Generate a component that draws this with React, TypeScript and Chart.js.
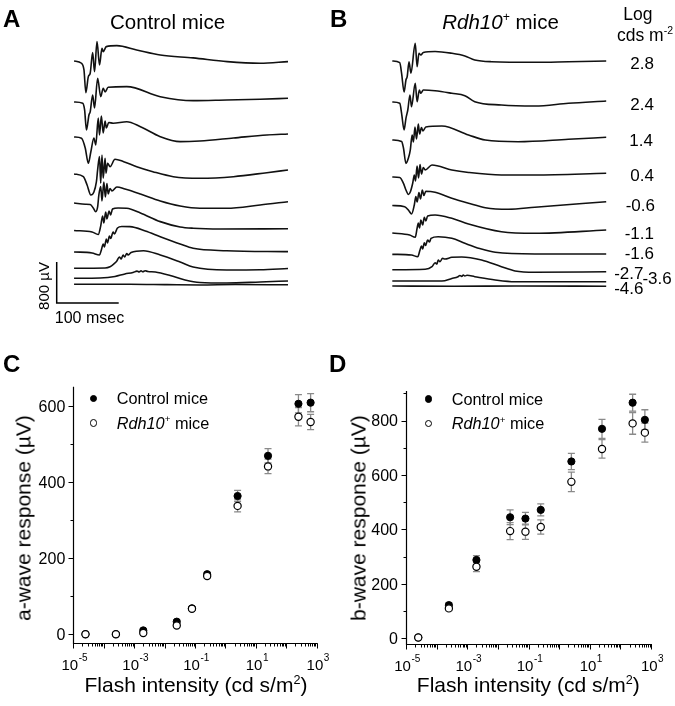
import React, { useEffect, useRef } from "react";
import { Chart, registerables } from "chart.js";
Chart.register(...registerables);

const FONT = '"Liberation Sans", Arial, Helvetica, sans-serif';

// ---------------- Panels C & D : intensity-response data ----------------
const logIntensity = [-4.6, -3.6, -2.7, -1.6, -1.1, -0.6, 0.4, 1.4, 2.4, 2.8];
const aWaveControl = [0, 0, 10, 33, 68, 158, 364, 470, 607, 610];
const aWaveControlSem = [2, 2, 3, 4, 4, 5, 15, 19, 24, 24];
const aWaveRdh10 = [0, 0, 3, 23, 67, 153, 338, 442, 573, 559];
const aWaveRdh10Sem = [2, 2, 3, 4, 4, 5, 16, 19, 24, 20];
const bWaveControl = [3, 122, 288, 445, 440, 472, 650, 770, 866, 803];
const bWaveControlSem = [3, 8, 16, 27, 23, 22, 30, 35, 31, 37];
const bWaveRdh10 = [3, 110, 263, 394, 392, 409, 575, 696, 790, 756];
const bWaveRdh10Sem = [3, 8, 18, 31, 28, 26, 36, 34, 40, 35];

const xTickExponents = [-5, -4, -3, -2, -1, 0, 1, 2, 3];
const xLabelExponents = [-5, -3, -1, 1, 3];
const aYTicks = [0, 200, 400, 600];
const aYMinor = [100, 300, 500];
const bYTicks = [0, 200, 400, 600, 800];
const bYMinor = [100, 300, 500, 700, 900];

// ---------------- Panels A & B : ERG traces [ms, µV] ----------------
const intensityLabels = ["2.8", "2.4", "1.4", "0.4", "-0.6", "-1.1", "-1.6", "-2.7", "-3.6", "-4.6"];

const ctl28 = [[0,0],[12,-45],[16,-176],[19,-618],[23,-306],[26,-240],[30,162],[33,-209],[37,377],[41,-78],[45,248],[47,181],[52,279],[69,298],[101,215],[139,117],[192,59],[247,-14],[300,-45],[345,-14]];
const ctl24 = [[0,0],[14,-25],[17,-156],[20,-546],[24,-254],[26,-195],[30,137],[33,-117],[38,462],[43,103],[47,267],[50,195],[55,287],[85,298],[139,103],[192,25],[246,39],[300,53],[345,72]];
const ctl14 = [[0,0],[12,-25],[18,-215],[23,-513],[27,-293],[32,-20],[35,-156],[39,371],[41,39],[44,410],[47,78],[50,312],[52,176],[56,283],[63,267],[85,298],[107,201],[139,6],[171,-92],[203,-78],[257,-20],[311,39],[345,59]];
const ctl04 = [[0,0],[15,-53],[21,-215],[27,-410],[32,-351],[36,-156],[38,78],[41,338],[43,-181],[45,371],[47,-84],[50,306],[51.5,14],[54,209],[58,142],[66,287],[80,240],[101,142],[127,45],[160,-53],[203,-84],[257,-53],[311,25],[345,78]];
const ctlM06 = [[0,0],[18,-25],[26,-30],[31,-98],[35,-170],[38,-78],[40,156],[43,318],[45,39],[48,410],[50.5,117],[53,380],[55,176],[58,283],[61,234],[69,312],[82,273],[107,176],[139,39],[171,-59],[203,-103],[246,-103],[300,-39],[345,25]];
const ctlM11 = [[0,0],[29,-29],[39,-78],[43,88],[46,283],[48,146],[51,361],[53,224],[56.5,380],[59,302],[62,419],[71,439],[85,433],[107,341],[139,172],[171,68],[192,43],[236,29],[345,33]];
const ctlM16 = [[0,0],[29,-20],[41,-59],[44,39],[47,156],[49,98],[52,254],[54,176],[57,312],[59,263],[63,390],[65,351],[70,468],[77,497],[90,494],[115,410],[139,298],[171,156],[192,72],[246,25],[345,6]];
const ctlM27 = [[0,0],[50,6],[58,31],[64,84],[69,142],[73,220],[76,181],[79,259],[81.5,220],[85,289],[87,259],[92,308],[112,343],[139,259],[171,123],[192,25],[246,-33],[300,-29],[345,-4]];
const ctlM36 = [[0,0],[42,6],[66,35],[82,84],[95,113],[101.5,139],[105,123],[108,146],[111,127],[114.5,146],[119,133],[131,123],[155,55],[179,-33],[203,-82],[246,-92],[300,-72],[345,-53]];
const ctlM46 = [[0,0],[90,0],[150,-8],[203,-14],[260,-6],[345,-10]];

const rdh28 = [[0,0],[12,-33],[15,-240],[19,-605],[22,-371],[24,-306],[27,-14],[30,-240],[37,345],[40,-111],[43,150],[46,117],[50,166],[69,185],[96,150],[117,98],[133,20],[160,-14],[230,-25],[284,-14],[345,0]];
const rdh24 = [[0,0],[12,-25],[15,-220],[19,-546],[22,-318],[25,-156],[28.5,137],[31,-92],[37,365],[40,6],[43.6,234],[46,170],[50,234],[69,220],[96,170],[117,123],[133,6],[176,-59],[230,-78],[284,-25],[345,20]];
const rdh14 = [[0,0],[15,-29],[18,-156],[22,-455],[26,-351],[29,-195],[32,98],[34,-39],[36.6,254],[39,20],[42,312],[44,117],[47,244],[49.5,176],[54,254],[80,273],[123,98],[150,0],[203,-33],[284,14],[345,53]];
const rdh04 = [[0,0],[12,-10],[18,-123],[22,-254],[26,-341],[29,-293],[33,-117],[35.5,39],[37.4,-78],[40,215],[42.3,-20],[44.7,244],[47,59],[50,185],[53,137],[64,234],[96,137],[123,88],[176,39],[230,39],[345,72]];
const rdhM06 = [[0,0],[20,-23],[27,-107],[31,-166],[35.5,10],[38,172],[40,68],[43,250],[45.5,127],[48.4,302],[51,195],[54,277],[69,258],[96,140],[123,43],[150,-43],[187,-74],[230,-35],[345,74]];
const rdhM11 = [[0,0],[28,-39],[37,-84],[40,92],[42,195],[44,98],[46,254],[49,156],[51.6,306],[54,234],[57,332],[69,351],[96,287],[123,176],[176,25],[230,-6],[345,59]];
const rdhM16 = [[0,0],[31,-14],[41,-47],[44.7,84],[47,162],[49,103],[51.6,226],[53.6,172],[57,279],[60,240],[62.4,312],[74,343],[96,312],[117,215],[141,113],[166,39],[230,6],[345,6]];
const rdhM27 = [[0,0],[53,10],[64,60],[69,139],[72,113],[74,191],[77,158],[81,224],[85,211],[96,244],[112,250],[144,191],[176,60],[198,-23],[230,-49],[345,-37]];
const rdhM36 = [[0,0],[80,0],[96,49],[106,84],[109,107],[112,88],[114.5,117],[117,98],[120.5,111],[133,84],[166,20],[198,-14],[345,-14]];
const rdhM46 = [[0,0],[100,-4],[200,0],[345,-4]];

const controlTraces = [ctl28, ctl24, ctl14, ctl04, ctlM06, ctlM11, ctlM16, ctlM27, ctlM36, ctlM46];
const rdh10Traces = [rdh28, rdh24, rdh14, rdh04, rdhM06, rdhM11, rdhM16, rdhM27, rdhM36, rdhM46];

// vertical stacking offsets of the traces (µV)
const controlOffsets = [4357, 3557, 2874, 2152, 1586, 1050, 630, 312, 117, 0];
const rdh10Offsets = [4390, 3590, 2848, 2127, 1571, 1034, 618, 316, 98, 0];

// scale bar: 800 µV x 100 msec
const scaleBarUv = 800;
const scaleBarMs = 100;

// ---------------- layout (not data) ----------------
const labelLayout = [
  [654, 63.3], [654, 104.3], [653, 140], [654, 175], [655, 205.3],
  [654, 233], [654, 253.7], [643.5, 273.3], [671.7, 278.7], [643.5, 288.3],
];

function traceConfig(traces: number[][][], offsets: number[], xMin: number, padding: any, withBar: boolean): any {
  const datasets: any[] = traces.map((tr, i) => ({
    data: tr.map(([t, v]) => ({ x: t, y: v + offsets[i] })),
    borderColor: "#111",
    borderWidth: 1.6,
    pointRadius: 0,
    cubicInterpolationMode: "monotone",
    fill: false,
    clip: false,
  }));
  if (withBar) {
    const x0 = -28, y0 = -365;
    datasets.push({
      data: [
        { x: x0, y: y0 + scaleBarUv },
        { x: x0, y: y0 },
        { x: x0 + scaleBarMs, y: y0 },
      ],
      borderColor: "#000",
      borderWidth: 1.5,
      pointRadius: 0,
      tension: 0,
      fill: false,
      clip: false,
    });
  }
  return {
    type: "line",
    data: { datasets },
    options: {
      animation: false,
      responsive: false,
      devicePixelRatio: 1,
      events: [],
      layout: { padding },
      plugins: { legend: { display: false }, tooltip: { enabled: false }, title: { display: false } },
      scales: {
        x: { type: "linear", min: xMin, max: 345, display: false },
        y: { type: "linear", min: -430, max: 5150, display: false },
      },
    },
  };
}

const errorBarPlugin = {
  id: "errbars",
  beforeDatasetsDraw(chart: any) {
    const { ctx } = chart;
    const xs = chart.scales.x, ys = chart.scales.y;
    ctx.save();
    ctx.strokeStyle = "#8a8a8a";
    ctx.lineWidth = 1.3;
    chart.data.datasets.forEach((ds: any) => {
      if (!ds.errors) return;
      ds.data.forEach((p: any, i: number) => {
        const e = ds.errors[i];
        const px = xs.getPixelForValue(p.x);
        const y1 = ys.getPixelForValue(p.y + e);
        const y2 = ys.getPixelForValue(p.y - e);
        ctx.beginPath();
        ctx.moveTo(px, y1); ctx.lineTo(px, y2);
        ctx.moveTo(px - 3.5, y1); ctx.lineTo(px + 3.5, y1);
        ctx.moveTo(px - 3.5, y2); ctx.lineTo(px + 3.5, y2);
        ctx.stroke();
      });
    });
    ctx.restore();
  },
};

function axesPlugin(yTicks: number[], yMinor: number[]) {
  return {
    id: "axes",
    afterDraw(chart: any) {
      const { ctx, chartArea: ca } = chart;
      const xs = chart.scales.x, ys = chart.scales.y;
      const L = Math.round(ca.left) + 0.5;
      const B = Math.round(ca.bottom) + 0.5;
      ctx.save();
      ctx.strokeStyle = "#000";
      ctx.lineWidth = 1.2;
      ctx.beginPath();
      ctx.moveTo(L, ca.top);
      ctx.lineTo(L, B);
      ctx.lineTo(ca.right + 1, B);
      ctx.stroke();
      ctx.lineWidth = 1;
      ctx.beginPath();
      xTickExponents.forEach((e) => {
        const px = Math.round(xs.getPixelForValue(Math.pow(10, e))) + 0.5;
        ctx.moveTo(px, B); ctx.lineTo(px, B + 5);
        if (e < 3) {
          for (let k = 2; k <= 9; k++) {
            const mx = Math.round(xs.getPixelForValue(k * Math.pow(10, e))) + 0.5;
            ctx.moveTo(mx, B); ctx.lineTo(mx, B + 3);
          }
        }
      });
      yTicks.forEach((v) => {
        const py = Math.round(ys.getPixelForValue(v)) + 0.5;
        ctx.moveTo(L, py); ctx.lineTo(L - 5, py);
      });
      yMinor.forEach((v) => {
        const py = Math.round(ys.getPixelForValue(v)) + 0.5;
        ctx.moveTo(L, py); ctx.lineTo(L - 3, py);
      });
      ctx.stroke();
      ctx.fillStyle = "#000";
      ctx.textBaseline = "alphabetic";
      // y labels
      ctx.font = `16px ${FONT}`;
      ctx.textAlign = "right";
      yTicks.forEach((v) => {
        const py = ys.getPixelForValue(v);
        ctx.fillText(String(v), ca.left - 8, py + 5.7);
      });
      // x labels 10^n
      ctx.textAlign = "left";
      xLabelExponents.forEach((e) => {
        const px = xs.getPixelForValue(Math.pow(10, e));
        ctx.font = `15px ${FONT}`;
        const w10 = ctx.measureText("10").width;
        ctx.font = `10px ${FONT}`;
        const expStr = String(e);
        const wE = ctx.measureText(expStr).width;
        const sx = px - (w10 + wE) / 2 + 1;
        ctx.font = `15px ${FONT}`;
        ctx.fillText("10", sx, ca.bottom + 26.5);
        ctx.font = `10px ${FONT}`;
        ctx.fillText(expStr, sx + w10 + 0.5, ca.bottom + 18);
      });
      ctx.restore();
    },
  };
}

function responseConfig(ctl: number[], ctlSem: number[], rdh: number[], rdhSem: number[], yMin: number, yMax: number, padding: any, yTicks: number[], yMinor: number[]): any {
  return {
    type: "scatter",
    data: {
      datasets: [
        {
          label: "Rdh10+ mice",
          data: logIntensity.map((l, i) => ({ x: Math.pow(10, l), y: rdh[i] })),
          errors: rdhSem,
          pointRadius: 3.6,
          pointBackgroundColor: "#fff",
          pointBorderColor: "#000",
          pointBorderWidth: 1.2,
          order: 0,
          clip: false,
        },
        {
          label: "Control mice",
          data: logIntensity.map((l, i) => ({ x: Math.pow(10, l), y: ctl[i] })),
          errors: ctlSem,
          pointRadius: 3.6,
          pointBackgroundColor: "#000",
          pointBorderColor: "#000",
          pointBorderWidth: 1,
          order: 1,
          clip: false,
        },
      ],
    },
    options: {
      animation: false,
      responsive: false,
      devicePixelRatio: 1,
      events: [],
      layout: { padding },
      plugins: { legend: { display: false }, tooltip: { enabled: false } },
      scales: {
        x: { type: "logarithmic", min: 1e-5, max: 1e3, display: false },
        y: { type: "linear", min: yMin, max: yMax, display: false },
      },
    },
    plugins: [errorBarPlugin, axesPlugin(yTicks, yMinor)],
  };
}

type TP = { x: number; y: number; size: number; align?: "left" | "center" | "right"; bold?: boolean; rot?: boolean; children: any };
const T = ({ x, y, size, align = "left", bold = false, rot = false, children }: TP) => {
  const tx = align === "center" ? "-50%" : align === "right" ? "-100%" : "0";
  const style: any = {
    position: "absolute",
    left: x,
    top: rot ? y : y - 0.49 * size,
    fontSize: size,
    lineHeight: `${size}px`,
    fontWeight: bold ? "bold" : "normal",
    whiteSpace: "nowrap",
    transform: rot ? "translate(-50%, -50%) rotate(-90deg)" : `translateX(${tx})`,
  };
  return <div style={style}>{children}</div>;
};

const Sup = ({ children }: { children: any }) => (
  <span style={{ fontSize: "0.6em", position: "relative", top: "-0.65em" }}>{children}</span>
);

const Dot = ({ x, y, filled }: { x: number; y: number; filled: boolean }) => (
  <div
    style={{
      position: "absolute",
      left: x - 3.6,
      top: y - 3.6,
      width: 7.2,
      height: 7.2,
      boxSizing: "border-box",
      borderRadius: "50%",
      border: "1.2px solid #000",
      background: filled ? "#000" : "#fff",
    }}
  />
);

export default function App() {
  const refA = useRef<HTMLCanvasElement>(null);
  const refB = useRef<HTMLCanvasElement>(null);
  const refC = useRef<HTMLCanvasElement>(null);
  const refD = useRef<HTMLCanvasElement>(null);

  useEffect(() => {
    const charts: Chart[] = [];
    charts.push(new Chart(refA.current!, traceConfig(controlTraces, controlOffsets, -28, { left: 56.7, right: 47, top: 20.3, bottom: 18.7 }, true)));
    charts.push(new Chart(refB.current!, traceConfig(rdh10Traces, rdh10Offsets, 0, { left: 57.3, right: 68.8, top: 22.04, bottom: 16.96 }, false)));
    charts.push(new Chart(refC.current!, responseConfig(aWaveControl, aWaveControlSem, aWaveRdh10, aWaveRdh10Sem, -24, 652, { left: 73.3, right: 20.3, top: 56.7, bottom: 62.7 }, aYTicks, aYMinor)));
    charts.push(new Chart(refD.current!, responseConfig(bWaveControl, bWaveControlSem, bWaveRdh10, bWaveRdh10Sem, -22, 909, { left: 69, right: 24, top: 61, bottom: 61.7 }, bYTicks, bYMinor)));
    return () => charts.forEach((c) => c.destroy());
  }, []);

  return (
    <div style={{ position: "absolute", left: 0, top: 0, width: 675, height: 706, background: "#fff", fontFamily: FONT, color: "#000", overflow: "hidden" }}>
      <canvas ref={refA} width={335} height={325} style={{ position: "absolute", left: 0, top: 0 }} />
      <canvas ref={refB} width={340} height={325} style={{ position: "absolute", left: 335, top: 0 }} />
      <canvas ref={refC} width={337} height={376} style={{ position: "absolute", left: 0, top: 330 }} />
      <canvas ref={refD} width={338} height={376} style={{ position: "absolute", left: 337, top: 330 }} />

      <T x={3} y={19} size={24} bold>A</T>
      <T x={330} y={19} size={24} bold>B</T>
      <T x={3} y={364} size={24} bold>C</T>
      <T x={329} y={364} size={24} bold>D</T>

      <T x={167.5} y={21.7} size={20.5} align="center">Control mice</T>
      <T x={500.5} y={22} size={20.5} align="center"><i>Rdh10</i><Sup>+</Sup> mice</T>
      <T x={623.3} y={14.7} size={17.5}>Log</T>
      <T x={617} y={35.3} size={17.5}>cds m<Sup>-2</Sup></T>
      {intensityLabels.map((s, i) => (
        <T key={s} x={labelLayout[i][0]} y={labelLayout[i][1]} size={17} align="right">{s}</T>
      ))}

      <T x={43} y={285.7} size={15} rot>800 µV</T>
      <T x={89.5} y={318} size={16} align="center">100 msec</T>

      <T x={23.3} y={517.5} size={21} rot>a-wave response (µV)</T>
      <T x={196} y={684} size={21} align="center">Flash intensity (cd s/m<Sup>2</Sup>)</T>
      <T x={357.5} y={518} size={21} rot>b-wave response (µV)</T>
      <T x={528.3} y={684} size={21} align="center">Flash intensity (cd s/m<Sup>2</Sup>)</T>

      <Dot x={93.3} y={398.8} filled />
      <Dot x={93.3} y={423} filled={false} />
      <T x={116.7} y={398} size={16.3}>Control mice</T>
      <T x={116.7} y={422.7} size={16.3}><i>Rdh10</i><Sup>+</Sup> mice</T>
      <Dot x={428.3} y={399} filled />
      <Dot x={428.3} y={423.3} filled={false} />
      <T x={451.7} y={399} size={16.3}>Control mice</T>
      <T x={451.7} y={423.3} size={16.3}><i>Rdh10</i><Sup>+</Sup> mice</T>
    </div>
  );
}
